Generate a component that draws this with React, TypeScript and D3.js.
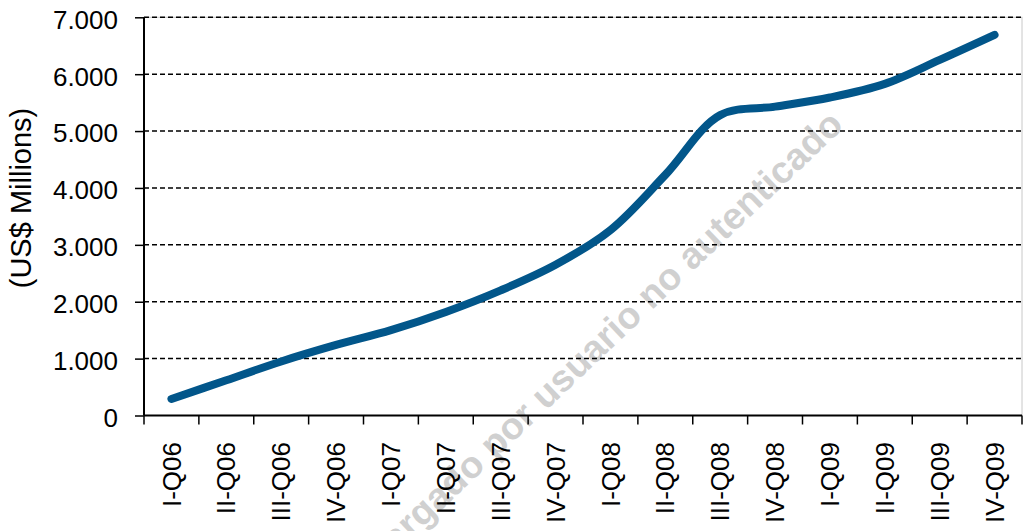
import React, { useEffect, useRef } from "react";
import * as d3 from "d3";

const quarters = [
  "I-Q06", "II-Q06", "III-Q06", "IV-Q06",
  "I-Q07", "II-Q07", "III-Q07", "IV-Q07",
  "I-Q08", "II-Q08", "III-Q08", "IV-Q08",
  "I-Q09", "II-Q09", "III-Q09", "IV-Q09",
];
const values = [290, 620, 950, 1240, 1500, 1820, 2200, 2650, 3260, 4230, 5280, 5430, 5590, 5830, 6250, 6690];
const yTicks = [0, 1000, 2000, 3000, 4000, 5000, 6000, 7000];
const yTitle = "(US$ Millions)";
const watermark = "descargado por usuario no autenticado";

const App = () => {
  const chartRef = useRef<SVGSVGElement>(null);

  useEffect(() => {
    const svg = d3.select(chartRef.current);
    svg.selectAll("*").remove();

    const left = 144, right = 1022, top = 17.3, bottom = 415.5;
    const font = "'Liberation Sans', Arial, sans-serif";

    const x = d3.scaleBand().domain(quarters).range([left, right]).padding(0);
    const y = d3.scaleLinear().domain([0, 7000]).range([bottom, top]);

    // watermark behind everything
    svg.append("text")
      .attr("transform", "translate(845,127) rotate(-43.5)")
      .attr("text-anchor", "end")
      .attr("font-family", font)
      .attr("font-weight", "bold")
      .attr("font-size", 37.5)
      .attr("fill", "#d0d0d0")
      .text(watermark);

    // plot area border (light)
    svg.append("rect")
      .attr("x", left).attr("y", top)
      .attr("width", right - left).attr("height", bottom - top)
      .attr("fill", "none")
      .attr("stroke", "#c8c8c8")
      .attr("stroke-width", 1);

    // dashed gridlines
    svg.selectAll(".grid")
      .data(yTicks.filter(d => d > 0))
      .enter()
      .append("line")
      .attr("class", "grid")
      .attr("x1", left).attr("x2", right)
      .attr("y1", d => y(d)).attr("y2", d => y(d))
      .attr("stroke", "#000")
      .attr("stroke-width", 1.5)
      .attr("stroke-dasharray", "5,3");

    // y axis
    const yAxis = svg.append("g")
      .attr("transform", `translate(${left},0)`)
      .call(d3.axisLeft(y).tickValues(yTicks).tickSize(9).tickPadding(17)
        .tickFormat(d => (d as number) === 0 ? "0" : d3.format(",")(d as number).replace(",", ".")));
    yAxis.select(".domain").attr("stroke-width", 2).attr("d", `M0,${bottom}V${top}`);
    yAxis.selectAll(".tick line").attr("stroke-width", 1.5);
    yAxis.selectAll("text")
      .attr("font-family", font)
      .attr("font-size", 26)
      .attr("fill", "#000")
      .attr("dy", "0.42em");

    // x axis: ticks between categories
    svg.append("line")
      .attr("x1", left).attr("x2", right)
      .attr("y1", bottom).attr("y2", bottom)
      .attr("stroke", "#000").attr("stroke-width", 2);

    const bounds = quarters.map(q => x(q) as number).concat([right]);
    svg.selectAll(".xtick")
      .data(bounds)
      .enter()
      .append("line")
      .attr("class", "xtick")
      .attr("x1", d => d).attr("x2", d => d)
      .attr("y1", bottom).attr("y2", bottom + 9)
      .attr("stroke", "#000").attr("stroke-width", 1.5);

    svg.selectAll(".xlabel")
      .data(quarters)
      .enter()
      .append("text")
      .attr("class", "xlabel")
      .attr("transform", d => `translate(${(x(d) as number) + x.bandwidth() / 2},442) rotate(-90)`)
      .attr("text-anchor", "end")
      .attr("dy", "0.35em")
      .attr("font-family", font)
      .attr("font-size", 26)
      .attr("fill", "#000")
      .text(d => d);

    // y title
    svg.append("text")
      .attr("transform", `translate(21,198) rotate(-90)`)
      .attr("text-anchor", "middle")
      .attr("dy", "0.35em")
      .attr("font-family", font)
      .attr("font-size", 29)
      .attr("fill", "#000")
      .text(yTitle);

    // smoothed line
    const line = d3.line<number>()
      .x((_, i) => (x(quarters[i]) as number) + x.bandwidth() / 2)
      .y(d => y(d))
      .curve(d3.curveCatmullRom.alpha(0.5));

    svg.append("path")
      .datum(values)
      .attr("d", line)
      .attr("fill", "none")
      .attr("stroke", "#02568A")
      .attr("stroke-width", 8)
      .attr("stroke-linecap", "round")
      .attr("stroke-linejoin", "round");
  }, []);

  return (
    <svg
      ref={chartRef}
      width="1023"
      height="531"
      style={{ position: "absolute", left: 0, top: 0, background: "#fff" }}
    ></svg>
  );
};

export default App;
